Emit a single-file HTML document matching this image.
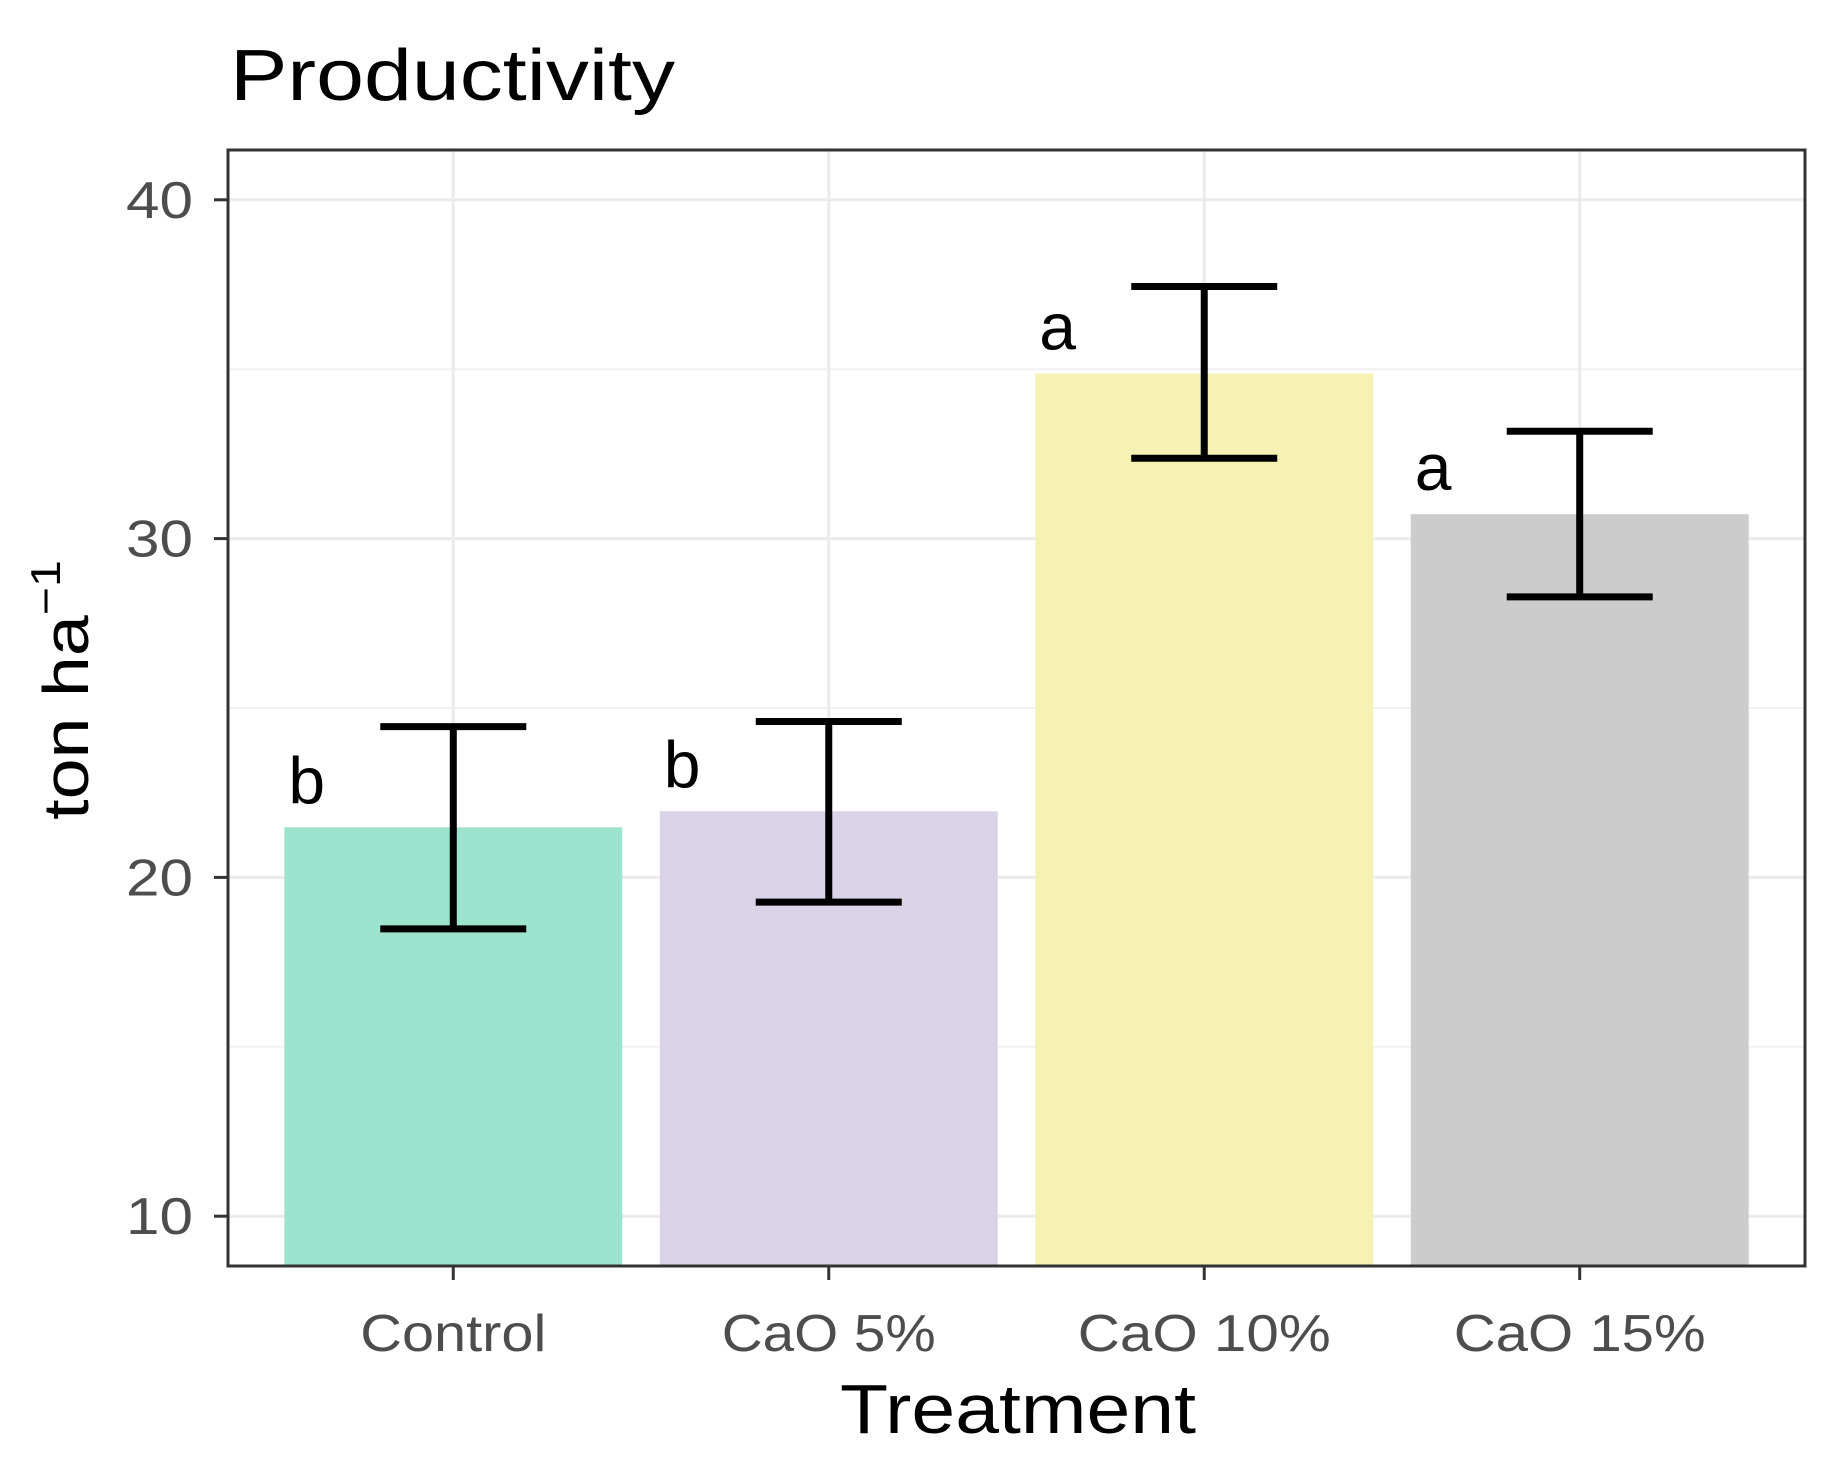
<!DOCTYPE html>
<html><head><meta charset="utf-8"><style>body{margin:0;background:#fff}svg{display:block}text{font-family:"Liberation Sans",sans-serif}</style></head>
<body>
<svg id="chart" width="1825" height="1460" xmlns="http://www.w3.org/2000/svg"></svg>
<script>
const categories=["Control","CaO 5%","CaO 10%","CaO 15%"];
const means=[21.48,21.95,34.87,30.72];
const errLow=[18.48,19.27,32.37,28.28];
const errHigh=[24.45,24.6,37.44,33.17];
const letters=["b","b","a","a"];
const colors=["#9ee3cd","#dad2e7","#f6f2b3","#cccccc"];
const yTicks=[10,20,30,40];
const yMinor=[15,25,35];
const xLabelWidths=[186,214,253,252];

const L=228,R=1805,T=150,B=1266;
const yMin=8.53,yMax=41.47;
const y=v=>B-(v-yMin)/(yMax-yMin)*(B-T);
const step=(R-L)/(categories.length+0.2);
const x=i=>L+step*(0.6+i);
const bw=step*0.9;
const svg=document.getElementById('chart');
const NS="http://www.w3.org/2000/svg";
function mk(t,a,txt){const e=document.createElementNS(NS,t);for(const k in a)e.setAttribute(k,a[k]);if(txt!==undefined)e.textContent=txt;svg.appendChild(e);return e;}

yMinor.forEach(v=>{const e=mk('line',{x1:L,x2:R,y1:y(v),y2:y(v),stroke:'#f2f2f2','stroke-width':2});

});
yTicks.forEach(v=>{const e=mk('line',{x1:L,x2:R,y1:y(v),y2:y(v),stroke:'#ebebeb','stroke-width':3});

});
categories.forEach((c,i)=>{const e=mk('line',{x1:x(i),x2:x(i),y1:T,y2:B,stroke:'#ebebeb','stroke-width':3});

});

categories.forEach((c,i)=>{
 const b=mk('rect',{x:x(i)-bw/2,y:y(means[i]),width:bw,height:B-y(means[i]),fill:colors[i]});
 
 
 const cw=73;
 const g=mk('path',{d:`M${x(i)-cw},${y(errHigh[i])}H${x(i)+cw}M${x(i)},${y(errHigh[i])}V${y(errLow[i])}M${x(i)-cw},${y(errLow[i])}H${x(i)+cw}`,stroke:'#000','stroke-width':7,fill:'none'});
 
 
 const t=mk('text',{x:x(i)-bw/2+4,y:y(means[i])-24,'font-size':66,fill:'#000'},letters[i]);
 
 
 const tk=mk('line',{x1:x(i),x2:x(i),y1:B,y2:B+14,stroke:'#333','stroke-width':3});
 
 
 const lb=mk('text',{x:x(i),y:1351,'font-size':52,fill:'#4d4d4d','text-anchor':'middle',textLength:xLabelWidths[i],lengthAdjust:'spacingAndGlyphs'},c);
 
 
});
yTicks.forEach(v=>{
 const tk=mk('line',{x1:L-14,x2:L,y1:y(v),y2:y(v),stroke:'#333','stroke-width':3});
 
 
 const lb=mk('text',{x:193,y:y(v)+18,'font-size':52,fill:'#4d4d4d','text-anchor':'end',textLength:67,lengthAdjust:'spacingAndGlyphs'},v);
 
 
});
const p=mk('rect',{x:L,y:T,width:R-L,height:B-T,fill:'none',stroke:'#333','stroke-width':3});


</script>
<svg style="position:absolute;left:0;top:0" width="1825" height="1460" xmlns="http://www.w3.org/2000/svg">
<text x="230" y="100" font-size="72" fill="#000" textLength="445" lengthAdjust="spacingAndGlyphs">Productivity</text>
<text x="840" y="1433" font-size="70" fill="#000" textLength="356" lengthAdjust="spacingAndGlyphs">Treatment</text>
<text transform="translate(88,690) rotate(-90) scale(1.15,1)" font-size="64" fill="#000" text-anchor="middle">ton ha<tspan font-size="42" dy="-28">−1</tspan></text>
</svg>
</body></html>
